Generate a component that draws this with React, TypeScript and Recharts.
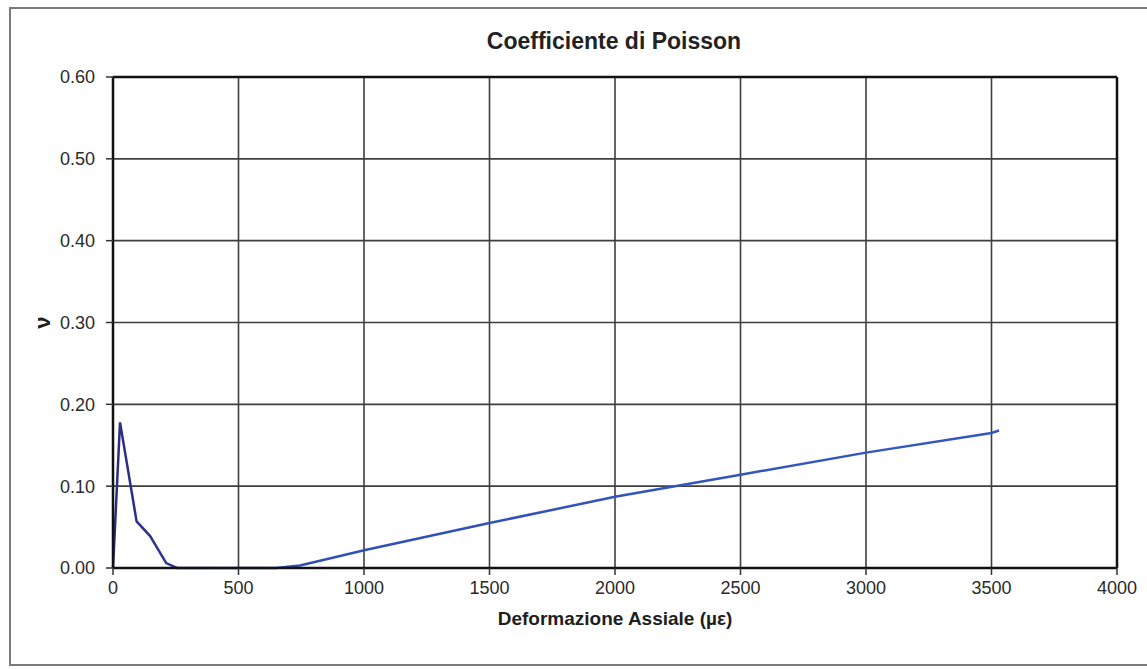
import React from "react"
import { LineChart, Line, XAxis, YAxis, CartesianGrid, ReferenceLine } from "recharts"

// deformazione assiale (µε) and Poisson ratio
const STRAIN = [0, 28, 94, 148, 212, 255, 400, 650, 745, 1005, 1500, 2000, 2500, 3000, 3500, 3530]
const NU = [0, 0.178, 0.057, 0.039, 0.006, 0, 0, 0, 0.003, 0.022, 0.055, 0.087, 0.114, 0.141, 0.165, 0.168]

const X_TICKS = [0, 500, 1000, 1500, 2000, 2500, 3000, 3500, 4000]
const Y_TICKS = [0, 0.1, 0.2, 0.3, 0.4, 0.5, 0.6]

const FONT = "'Liberation Sans', Arial, sans-serif"

const data = STRAIN.map((x, i) => ({ x, nu: NU[i] }))

export default function App() {
  return (
    <div style={{ position: "absolute", left: 0, top: 0, width: 1147, height: 669, background: "#fff", fontFamily: FONT }}>
      <div
        style={{
          position: "absolute",
          left: 9,
          top: 7,
          width: 1138,
          height: 659,
          borderLeft: "2px solid #7a7a7a",
          borderTop: "2px solid #7a7a7a",
          borderBottom: "2px solid #7a7a7a",
          boxSizing: "border-box",
        }}
      />
      <div
        style={{
          position: "absolute",
          left: 414,
          width: 400,
          top: 28,
          textAlign: "center",
          fontWeight: "bold",
          fontSize: 23,
          color: "#222",
        }}
      >
        Coefficiente di Poisson
      </div>
      <div style={{ position: "absolute", left: 0, top: 0 }}>
        <LineChart width={1147} height={669} data={data} margin={{ top: 77, right: 30, bottom: 41, left: 28 }}>
          <defs>
            <linearGradient id="nuStroke" x1="0" y1="0" x2="1" y2="0">
              <stop offset="0%" stopColor="#2a2c80" />
              <stop offset="8%" stopColor="#2e3a98" />
              <stop offset="25%" stopColor="#3050b8" />
              <stop offset="100%" stopColor="#3558c0" />
            </linearGradient>
          </defs>
          <CartesianGrid stroke="#3f3f3f" strokeWidth={1.6} />
          <XAxis
            dataKey="x"
            type="number"
            domain={[0, 4000]}
            ticks={X_TICKS}
            interval={0}
            height={60}
            axisLine={{ stroke: "#111", strokeWidth: 2.5 }}
            tickLine={{ stroke: "#333", strokeWidth: 1.5 }}
            tickSize={7}
            tickMargin={6}
            tick={{ fill: "#2a2a2a", fontSize: 18, fontFamily: FONT }}
            label={{
              value: "Deformazione Assiale (µε)",
              position: "insideBottom",
              offset: 3,
              style: { fill: "#1e1e1e", fontSize: 19, fontWeight: "bold", fontFamily: FONT },
            }}
          />
          <YAxis
            type="number"
            domain={[0, 0.6]}
            ticks={Y_TICKS}
            interval={0}
            width={85}
            axisLine={{ stroke: "#111", strokeWidth: 2.5 }}
            tickLine={{ stroke: "#333", strokeWidth: 1.5 }}
            tickSize={7}
            tickMargin={11}
            tickFormatter={(v: number) => v.toFixed(2)}
            tick={{ fill: "#2a2a2a", fontSize: 18, fontFamily: FONT }}
            label={{
              value: "ν",
              angle: -90,
              position: "insideLeft",
              offset: 14,
              style: { fill: "#1e1e1e", fontSize: 22, fontWeight: "bold", fontFamily: FONT, textAnchor: "middle" },
            }}
          />
          <ReferenceLine y={0.6} stroke="#111" strokeWidth={2.5} />
          <ReferenceLine x={4000} stroke="#111" strokeWidth={2.5} />
          <Line
            type="linear"
            dataKey="nu"
            stroke="url(#nuStroke)"
            strokeWidth={2.5}
            dot={false}
            isAnimationActive={false}
          />
        </LineChart>
      </div>
    </div>
  )
}
